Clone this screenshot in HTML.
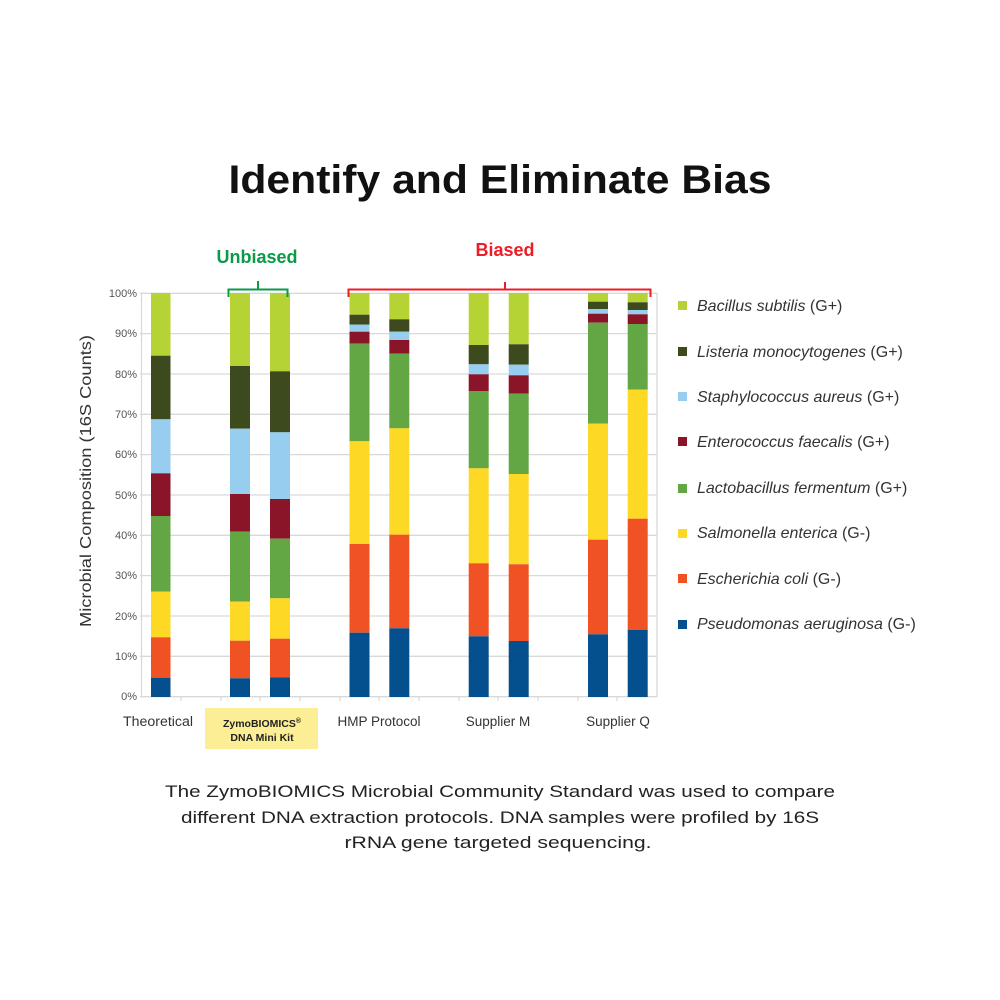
<!DOCTYPE html>
<html><head><meta charset="utf-8"><style>html,body{margin:0;padding:0;background:#fff}svg{display:block}</style></head>
<body>
<svg width="1000" height="1000" viewBox="0 0 1000 1000" xmlns="http://www.w3.org/2000/svg" font-family="Liberation Sans, sans-serif">
<rect width="1000" height="1000" fill="#fff"/>
<text x="500" y="193" text-anchor="middle" font-size="40" font-weight="bold" fill="#111" textLength="543" lengthAdjust="spacingAndGlyphs">Identify and Eliminate Bias</text>

<!-- gridlines -->
<g stroke="#d9d9d9" stroke-width="1.3">
<line x1="140" y1="293.3" x2="657" y2="293.3"/><line x1="140" y1="333.6" x2="657" y2="333.6"/>
<line x1="140" y1="374" x2="657" y2="374"/><line x1="140" y1="414.3" x2="657" y2="414.3"/>
<line x1="140" y1="454.6" x2="657" y2="454.6"/><line x1="140" y1="495" x2="657" y2="495"/>
<line x1="140" y1="535.3" x2="657" y2="535.3"/><line x1="140" y1="575.6" x2="657" y2="575.6"/>
<line x1="140" y1="616" x2="657" y2="616"/><line x1="140" y1="656.3" x2="657" y2="656.3"/>
<line x1="140" y1="696.7" x2="657" y2="696.7"/>
<line x1="141.5" y1="293" x2="141.5" y2="697"/><line x1="657" y1="293" x2="657" y2="697"/>
</g>
<g stroke="#d0d0d0" stroke-width="1">
<line x1="181" y1="697" x2="181" y2="701"/><line x1="221" y1="697" x2="221" y2="701"/><line x1="260" y1="697" x2="260" y2="701"/><line x1="300" y1="697" x2="300" y2="701"/><line x1="340" y1="697" x2="340" y2="701"/><line x1="379" y1="697" x2="379" y2="701"/><line x1="419" y1="697" x2="419" y2="701"/><line x1="459" y1="697" x2="459" y2="701"/><line x1="498" y1="697" x2="498" y2="701"/><line x1="538" y1="697" x2="538" y2="701"/><line x1="578" y1="697" x2="578" y2="701"/><line x1="617" y1="697" x2="617" y2="701"/>
</g>
<g font-size="11" fill="#555" text-anchor="end">
<text x="137" y="297">100%</text><text x="137" y="337">90%</text><text x="137" y="378">80%</text><text x="137" y="418">70%</text><text x="137" y="458">60%</text><text x="137" y="499">50%</text><text x="137" y="539">40%</text><text x="137" y="579">30%</text><text x="137" y="620">20%</text><text x="137" y="660">10%</text><text x="137" y="700">0%</text>
</g>
<text transform="translate(91,481) rotate(-90)" text-anchor="middle" font-size="16" fill="#333" textLength="292" lengthAdjust="spacingAndGlyphs">Microbial Composition (16S Counts)</text>

<!-- bars: order bottom->top: blue, orange, yellow, green, maroon, lightblue, dark, lime -->
<g id="bars">
<!-- Theoretical -->
<rect x="151" y="293" width="19.5" height="62.7" fill="#b5d334"/>
<rect x="151" y="355.7" width="19.5" height="63.6" fill="#3d4a1e"/>
<rect x="151" y="419.3" width="19.5" height="54" fill="#97cdee"/>
<rect x="151" y="473.3" width="19.5" height="42.7" fill="#8a1529"/>
<rect x="151" y="516" width="19.5" height="75.7" fill="#62a744"/>
<rect x="151" y="591.7" width="19.5" height="45.6" fill="#fdd825"/>
<rect x="151" y="637.3" width="19.5" height="40.4" fill="#f05223"/>
<rect x="151" y="677.7" width="19.5" height="19.3" fill="#044f8d"/>
<!-- Zymo1 -->
<rect x="230" y="293" width="20" height="73" fill="#b5d334"/>
<rect x="230" y="366" width="20" height="62.7" fill="#3d4a1e"/>
<rect x="230" y="428.7" width="20" height="65.3" fill="#97cdee"/>
<rect x="230" y="494" width="20" height="37.7" fill="#8a1529"/>
<rect x="230" y="531.7" width="20" height="70" fill="#62a744"/>
<rect x="230" y="601.7" width="20" height="39" fill="#fdd825"/>
<rect x="230" y="640.7" width="20" height="37.6" fill="#f05223"/>
<rect x="230" y="678.3" width="20" height="18.7" fill="#044f8d"/>
<!-- Zymo2 -->
<rect x="270" y="293" width="20" height="78.3" fill="#b5d334"/>
<rect x="270" y="371.3" width="20" height="61" fill="#3d4a1e"/>
<rect x="270" y="432.3" width="20" height="66.7" fill="#97cdee"/>
<rect x="270" y="499" width="20" height="39.7" fill="#8a1529"/>
<rect x="270" y="538.7" width="20" height="59.6" fill="#62a744"/>
<rect x="270" y="598.3" width="20" height="40.4" fill="#fdd825"/>
<rect x="270" y="638.7" width="20" height="38.6" fill="#f05223"/>
<rect x="270" y="677.3" width="20" height="19.7" fill="#044f8d"/>
<!-- HMP1 -->
<rect x="349.5" y="293" width="20" height="21.7" fill="#b5d334"/>
<rect x="349.5" y="314.7" width="20" height="10" fill="#3d4a1e"/>
<rect x="349.5" y="324.7" width="20" height="7" fill="#97cdee"/>
<rect x="349.5" y="331.7" width="20" height="12" fill="#8a1529"/>
<rect x="349.5" y="343.7" width="20" height="97.6" fill="#62a744"/>
<rect x="349.5" y="441.3" width="20" height="102.7" fill="#fdd825"/>
<rect x="349.5" y="544" width="20" height="88.7" fill="#f05223"/>
<rect x="349.5" y="632.7" width="20" height="64.3" fill="#044f8d"/>
<!-- HMP2 -->
<rect x="389.3" y="293" width="20" height="26.3" fill="#b5d334"/>
<rect x="389.3" y="319.3" width="20" height="12.4" fill="#3d4a1e"/>
<rect x="389.3" y="331.7" width="20" height="8.3" fill="#97cdee"/>
<rect x="389.3" y="340" width="20" height="13.7" fill="#8a1529"/>
<rect x="389.3" y="353.7" width="20" height="74.6" fill="#62a744"/>
<rect x="389.3" y="428.3" width="20" height="106.4" fill="#fdd825"/>
<rect x="389.3" y="534.7" width="20" height="93.6" fill="#f05223"/>
<rect x="389.3" y="628.3" width="20" height="68.7" fill="#044f8d"/>
<!-- M1 -->
<rect x="468.7" y="293" width="20" height="52" fill="#b5d334"/>
<rect x="468.7" y="345" width="20" height="19.3" fill="#3d4a1e"/>
<rect x="468.7" y="364.3" width="20" height="10" fill="#97cdee"/>
<rect x="468.7" y="374.3" width="20" height="17" fill="#8a1529"/>
<rect x="468.7" y="391.3" width="20" height="77" fill="#62a744"/>
<rect x="468.7" y="468.3" width="20" height="95" fill="#fdd825"/>
<rect x="468.7" y="563.3" width="20" height="73" fill="#f05223"/>
<rect x="468.7" y="636.3" width="20" height="60.7" fill="#044f8d"/>
<!-- M2 -->
<rect x="508.7" y="293" width="20" height="51.3" fill="#b5d334"/>
<rect x="508.7" y="344.3" width="20" height="20.4" fill="#3d4a1e"/>
<rect x="508.7" y="364.7" width="20" height="10.6" fill="#97cdee"/>
<rect x="508.7" y="375.3" width="20" height="18.4" fill="#8a1529"/>
<rect x="508.7" y="393.7" width="20" height="80.3" fill="#62a744"/>
<rect x="508.7" y="474" width="20" height="90.3" fill="#fdd825"/>
<rect x="508.7" y="564.3" width="20" height="76.7" fill="#f05223"/>
<rect x="508.7" y="641" width="20" height="56" fill="#044f8d"/>
<!-- Q1 -->
<rect x="588" y="293" width="20" height="8.7" fill="#b5d334"/>
<rect x="588" y="301.7" width="20" height="7.3" fill="#3d4a1e"/>
<rect x="588" y="309" width="20" height="4.7" fill="#97cdee"/>
<rect x="588" y="313.7" width="20" height="9" fill="#8a1529"/>
<rect x="588" y="322.7" width="20" height="101" fill="#62a744"/>
<rect x="588" y="423.7" width="20" height="116" fill="#fdd825"/>
<rect x="588" y="539.7" width="20" height="94.6" fill="#f05223"/>
<rect x="588" y="634.3" width="20" height="62.7" fill="#044f8d"/>
<!-- Q2 -->
<rect x="627.7" y="293" width="20" height="9.3" fill="#b5d334"/>
<rect x="627.7" y="302.3" width="20" height="7.7" fill="#3d4a1e"/>
<rect x="627.7" y="310" width="20" height="4.3" fill="#97cdee"/>
<rect x="627.7" y="314.3" width="20" height="9.7" fill="#8a1529"/>
<rect x="627.7" y="324" width="20" height="65.7" fill="#62a744"/>
<rect x="627.7" y="389.7" width="20" height="129" fill="#fdd825"/>
<rect x="627.7" y="518.7" width="20" height="111.3" fill="#f05223"/>
<rect x="627.7" y="630" width="20" height="67" fill="#044f8d"/>
</g>

<!-- braces -->
<path d="M228.5 297 V289.5 H287.5 V297 M258 289.5 V281" fill="none" stroke="#0a9a48" stroke-width="2"/>
<path d="M348.5 297 V289.5 H650.5 V297 M505 289.5 V282" fill="none" stroke="#ee1c24" stroke-width="2"/>
<text x="257" y="263" text-anchor="middle" font-size="18" font-weight="bold" fill="#0a9a48">Unbiased</text>
<text x="505" y="256" text-anchor="middle" font-size="18" font-weight="bold" fill="#ee1c24">Biased</text>

<!-- x labels -->
<rect x="205" y="708" width="113" height="41" fill="#fbee95"/>
<g font-size="13.5" fill="#333" text-anchor="middle">
<text x="158" y="726" textLength="70" lengthAdjust="spacingAndGlyphs">Theoretical</text>
<text x="379" y="726">HMP Protocol</text>
<text x="498" y="726">Supplier M</text>
<text x="618" y="726">Supplier Q</text>
</g>
<g font-size="10.5" font-weight="bold" fill="#222" text-anchor="middle">
<text x="262" y="727">ZymoBIOMICS<tspan font-size="7" dy="-4">®</tspan></text>
<text x="262" y="741">DNA Mini Kit</text>
</g>

<!-- legend -->
<g>
<rect x="678" y="301" width="9" height="9" fill="#b5d334"/>
<rect x="678" y="347" width="9" height="9" fill="#3d4a1e"/>
<rect x="678" y="392" width="9" height="9" fill="#97cdee"/>
<rect x="678" y="437" width="9" height="9" fill="#8a1529"/>
<rect x="678" y="484" width="9" height="9" fill="#62a744"/>
<rect x="678" y="529" width="9" height="9" fill="#fdd825"/>
<rect x="678" y="574" width="9" height="9" fill="#f05223"/>
<rect x="678" y="620" width="9" height="9" fill="#044f8d"/>
</g>
<g font-size="16" fill="#333">
<text x="697" y="311"><tspan font-style="italic">Bacillus subtilis</tspan> (G+)</text>
<text x="697" y="357"><tspan font-style="italic">Listeria monocytogenes</tspan> (G+)</text>
<text x="697" y="402"><tspan font-style="italic">Staphylococcus aureus</tspan> (G+)</text>
<text x="697" y="447"><tspan font-style="italic">Enterococcus faecalis</tspan> (G+)</text>
<text x="697" y="493"><tspan font-style="italic">Lactobacillus fermentum</tspan> (G+)</text>
<text x="697" y="538"><tspan font-style="italic">Salmonella enterica</tspan> (G-)</text>
<text x="697" y="584"><tspan font-style="italic">Escherichia coli</tspan>  (G-)</text>
<text x="697" y="629"><tspan font-style="italic">Pseudomonas aeruginosa</tspan> (G-)</text>
</g>

<!-- caption -->
<g font-size="17" fill="#222" text-anchor="middle">
<text x="500" y="797" textLength="670" lengthAdjust="spacingAndGlyphs">The ZymoBIOMICS Microbial Community Standard was used to compare</text>
<text x="500" y="823" textLength="638" lengthAdjust="spacingAndGlyphs">different DNA extraction protocols. DNA samples were profiled by 16S</text>
<text x="498" y="848" textLength="307" lengthAdjust="spacingAndGlyphs">rRNA gene targeted sequencing.</text>
</g>
</svg>
</body></html>
